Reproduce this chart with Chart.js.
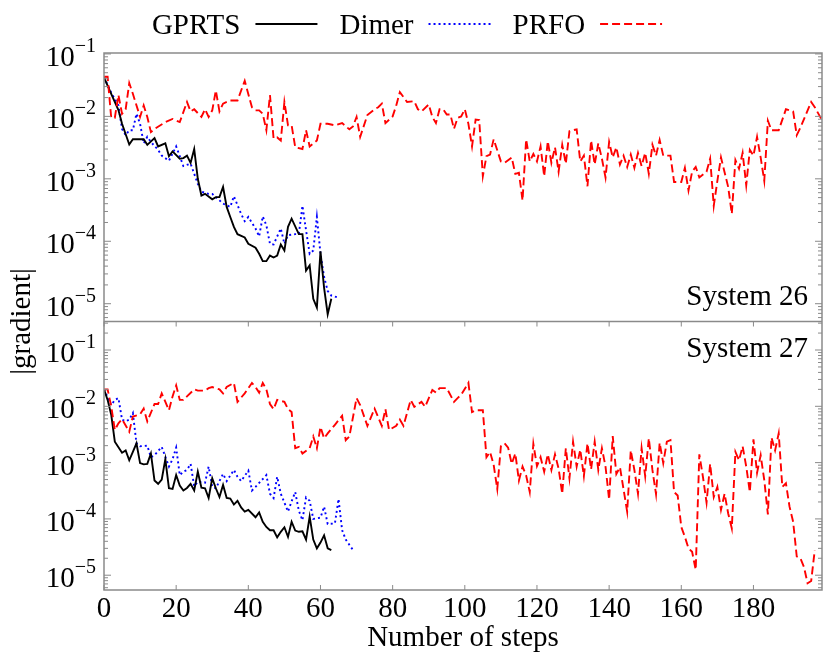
<!DOCTYPE html>
<html>
<head>
<meta charset="utf-8">
<title>Gradient convergence</title>
<script src="https://cdn.jsdelivr.net/npm/chart.js@4.4.0/dist/chart.umd.min.js"></script>
<style>
  html, body { margin: 0; padding: 0; background: #fff; }
  #wrap { width: 830px; height: 664px; }
</style>
</head>
<body>
<div id="wrap"><canvas id="gradChart" width="830" height="664"></canvas></div>
<script>
// [step, |gradient|], System 26 (top panel)
const gprts26 = [[0,4.2e-2],[2,2.3e-2],[4,1.26e-2],[5,7.6e-3],[7,3.55e-3],[8,4.3e-3],[11,4.3e-3],[12,3.5e-3],[14,4.5e-3],[15,3.3e-3],[17,3.7e-3],[18,2.3e-3],[19,2.75e-3],[21,2.1e-3],[22,2.15e-3],[23,2.35e-3],[24,1.8e-3],[25,3.0e-3],[26,1.0e-3],[27,5.4e-4],[28,5.75e-4],[30,4.7e-4],[31,5.1e-4],[32,5.1e-4],[33,7.4e-4],[34,3.55e-4],[35,2.45e-4],[36,1.7e-4],[37,1.3e-4],[39,1.15e-4],[40,9.1e-5],[42,7.9e-5],[43,6.3e-5],[44,4.8e-5],[45,4.8e-5],[46,5.9e-5],[47,5.5e-5],[48,5.9e-5],[49,8.9e-5],[50,7.1e-5],[51,1.7e-4],[52,2.3e-4],[54,1.3e-4],[55,1.3e-4],[56,3.4e-5],[57,4.1e-5],[58,1.2e-5],[59,8.7e-6],[60,6.9e-5],[61,1.8e-5],[62,6.8e-6],[63,1.2e-5]];

const dimer26 = [[0,4.2e-2],[2,2.4e-2],[4,1.5e-2],[5,6.3e-3],[6,5.0e-3],[7,6.0e-3],[8,6.0e-3],[9,1.1e-2],[10,7.6e-3],[11,3.7e-3],[12,4.7e-3],[13,3.9e-3],[15,2.9e-3],[16,2.35e-3],[18,1.95e-3],[20,3.3e-3],[22,1.6e-3],[24,1.75e-3],[26,8.3e-4],[27,6.2e-4],[29,5.75e-4],[30,5.75e-4],[31,5.1e-4],[33,4.0e-4],[35,3.55e-4],[36,5.25e-4],[38,2.75e-4],[39,2.1e-4],[40,2.45e-4],[42,1.6e-4],[43,1.2e-4],[44,2.5e-4],[45,1.8e-4],[46,9.1e-5],[47,8.9e-5],[49,1.6e-4],[50,9.1e-5],[51,1.25e-4],[53,1.3e-4],[54,1.3e-4],[55,3.7e-4],[56,1.5e-4],[57,6.3e-5],[58,7.1e-5],[59,2.45e-4],[60,6.3e-5],[61,2.7e-5],[62,1.6e-5],[63,1.35e-5],[65,1.25e-5]];

const prfo26 = [[0,4.3e-2],[1,4.3e-2],[2,9.5e-3],[3,9.5e-3],[4,2.2e-2],[5,1.1e-2],[6,1.3e-2],[7,3.4e-2],[8,2.3e-2],[10,9.8e-3],[11,1.5e-2],[12,9.8e-3],[13,5.6e-3],[14,6.3e-3],[17,8.1e-3],[19,9.1e-3],[21,8.1e-3],[23,1.7e-2],[24,1.2e-2],[25,1.3e-2],[27,9.8e-3],[28,1.3e-2],[29,9.8e-3],[30,1.25e-2],[31,2.6e-2],[32,1.2e-2],[33,1.6e-2],[35,1.8e-2],[37,1.8e-2],[39,3.7e-2],[41,1.4e-2],[42,1.25e-2],[43,1.25e-2],[44,1.1e-2],[45,6.0e-3],[46,2.2e-2],[47,4.4e-3],[48,4.6e-3],[49,4.1e-3],[50,1.7e-2],[51,7.2e-3],[52,7.2e-3],[53,3.2e-3],[55,3.0e-3],[56,6.0e-3],[57,3.3e-3],[59,4.1e-3],[60,7.6e-3],[62,7.6e-3],[64,7.2e-3],[66,7.8e-3],[68,6.2e-3],[69,6.9e-3],[70,9.8e-3],[71,4.7e-3],[73,1.05e-2],[75,1.3e-2],[76,1.4e-2],[77,1.6e-2],[78,7.8e-3],[80,1.0e-2],[81,1.5e-2],[82,2.45e-2],[84,1.7e-2],[86,1.75e-2],[87,1.3e-2],[88,1.2e-2],[90,1.55e-2],[91,9.8e-3],[92,7.8e-3],[93,1.3e-2],[94,1.3e-2],[95,1.07e-2],[96,1.07e-2],[97,6.3e-3],[98,9.5e-3],[99,1.0e-2],[100,1.3e-2],[101,7.6e-3],[102,3.3e-3],[103,8.9e-3],[104,8.7e-3],[105,1.1e-3],[106,2.3e-3],[107,2.45e-3],[108,4.3e-3],[110,1.9e-3],[111,1.8e-3],[113,2.2e-3],[114,1.2e-3],[115,1.25e-3],[116,4.5e-4],[117,4.3e-3],[118,1.9e-3],[119,2.5e-3],[120,1.9e-3],[121,3.3e-3],[122,1.1e-3],[123,4.0e-3],[124,1.8e-3],[125,3.2e-3],[126,1.3e-3],[127,3.5e-3],[128,1.75e-3],[129,5.8e-3],[131,6.2e-3],[132,1.9e-3],[133,2.35e-3],[134,7.6e-4],[135,4.1e-3],[136,1.7e-3],[137,3.7e-3],[138,2.1e-3],[139,1.05e-3],[140,3.9e-3],[141,2.2e-3],[142,3.2e-3],[143,1.7e-3],[144,2.35e-3],[145,1.55e-3],[146,2.45e-3],[147,1.5e-3],[148,2.6e-3],[149,1.6e-3],[150,2.6e-3],[151,1.2e-3],[152,3.5e-3],[153,2.35e-3],[154,4.2e-3],[155,2.35e-3],[157,2.35e-3],[158,8.9e-4],[160,8.9e-4],[161,1.5e-3],[162,6.5e-4],[163,1.3e-3],[164,1.55e-3],[165,1.05e-3],[167,1.3e-3],[168,2.1e-3],[169,3.7e-4],[170,9.3e-4],[171,2.2e-3],[173,7.4e-4],[174,2.75e-4],[175,2.0e-3],[176,1.45e-3],[177,2.6e-3],[178,7.9e-4],[179,2.9e-3],[180,2.35e-3],[181,4.7e-3],[182,2.2e-3],[183,9.3e-4],[184,8.5e-3],[185,6.0e-3],[187,6.0e-3],[189,1.3e-2],[191,1.2e-2],[192,5.0e-3],[193,6.6e-3],[196,1.7e-2],[197,1.4e-2],[199,8.7e-3]];

// System 27 (bottom panel)
const gprts27 = [[0,2.0e-2],[1,1.3e-2],[2,7.1e-3],[3,2.35e-3],[5,1.5e-3],[6,1.65e-3],[7,1.1e-3],[8,1.55e-3],[9,2.2e-3],[10,9.8e-4],[11,9.3e-4],[12,9.5e-4],[13,1.45e-3],[14,4.8e-4],[15,4.2e-4],[16,5.0e-4],[17,1.15e-3],[18,3.5e-4],[19,3.4e-4],[20,6.0e-4],[21,3.9e-4],[22,3.2e-4],[23,3.55e-4],[24,4.2e-4],[25,3.2e-4],[26,6.9e-4],[27,3.6e-4],[28,3.5e-4],[29,2.35e-4],[30,5.25e-4],[31,3.5e-4],[32,2.45e-4],[33,4.0e-4],[34,2.35e-4],[35,2.3e-4],[36,1.8e-4],[37,2.1e-4],[38,1.6e-4],[39,1.35e-4],[40,1.45e-4],[42,1.07e-4],[43,1.3e-4],[44,8.9e-5],[45,7.2e-5],[46,6.3e-5],[47,6.3e-5],[48,4.7e-5],[49,5.9e-5],[50,7.1e-5],[51,4.8e-5],[52,8.9e-5],[53,6.2e-5],[54,5.9e-5],[55,6.0e-5],[56,4.3e-5],[57,1.1e-4],[58,4.3e-5],[59,3.0e-5],[60,3.8e-5],[61,5.1e-5],[62,3.0e-5],[63,2.8e-5]];

const dimer27 = [[0,2.0e-2],[2,1.05e-2],[3,1.3e-2],[4,1.4e-2],[5,5.8e-3],[6,5.4e-3],[7,5.8e-3],[8,7.6e-3],[9,2.2e-3],[10,1.95e-3],[12,2.0e-3],[13,1.25e-3],[14,1.35e-3],[16,1.9e-3],[18,8.5e-4],[19,1.15e-3],[20,1.85e-3],[21,6.0e-4],[22,6.9e-4],[23,7.4e-4],[24,9.5e-4],[25,3.8e-4],[26,4.6e-4],[28,4.4e-4],[29,8.5e-4],[30,3.7e-4],[31,3.5e-4],[33,6.3e-4],[34,4.7e-4],[36,7.4e-4],[37,5.6e-4],[38,4.7e-4],[40,7.2e-4],[41,3.2e-4],[42,3.7e-4],[45,6.0e-4],[46,2.8e-4],[47,2.35e-4],[48,5.6e-4],[49,2.8e-4],[51,1.35e-4],[52,2.05e-4],[53,3.0e-4],[54,1.4e-4],[55,9.5e-5],[56,2.4e-4],[57,2.1e-4],[58,1.0e-4],[60,1.05e-4],[61,1.65e-4],[62,8.1e-5],[64,8.3e-5],[65,2.25e-4],[66,6.3e-5],[67,4.3e-5],[69,2.8e-5]];

const prfo27 = [[0,2.0e-2],[1,2.0e-2],[2,1.0e-2],[3,3.8e-3],[4,5.0e-3],[5,5.9e-3],[7,3.55e-3],[8,6.6e-3],[10,7.2e-3],[11,9.1e-3],[12,5.4e-3],[14,1.1e-2],[15,1.1e-2],[16,1.7e-2],[18,8.5e-3],[19,1.5e-2],[20,2.35e-2],[21,1.3e-2],[22,1.3e-2],[23,1.5e-2],[25,2.0e-2],[26,1.9e-2],[28,1.9e-2],[29,2.1e-2],[30,2.2e-2],[32,2.0e-2],[33,1.7e-2],[34,2.2e-2],[36,2.6e-2],[37,1.2e-2],[39,1.7e-2],[41,2.6e-2],[42,2.2e-2],[43,1.75e-2],[44,2.6e-2],[45,2.0e-2],[46,1.1e-2],[47,8.9e-3],[48,1.3e-2],[50,1.2e-2],[51,8.9e-3],[52,7.9e-3],[53,1.8e-3],[54,1.9e-3],[55,1.45e-3],[57,1.8e-3],[58,2.9e-3],[59,1.8e-3],[60,4.3e-3],[61,2.7e-3],[62,3.3e-3],[64,4.7e-3],[66,6.8e-3],[67,2.5e-3],[68,2.9e-3],[70,1.4e-2],[71,1.05e-2],[73,4.5e-3],[75,9.1e-3],[77,4.5e-3],[78,8.9e-3],[79,3.8e-3],[81,4.5e-3],[82,5.8e-3],[83,4.5e-3],[85,1.3e-2],[86,9.8e-3],[88,1.2e-2],[89,9.8e-3],[91,1.95e-2],[92,1.75e-2],[93,2.1e-2],[95,2.1e-2],[97,1.2e-2],[98,1.4e-2],[99,1.6e-2],[101,2.6e-2],[102,7.9e-3],[103,8.5e-3],[105,8.5e-3],[106,1.25e-3],[107,1.55e-3],[108,9.1e-4],[109,3.4e-4],[110,1.95e-3],[111,2.2e-3],[112,1.85e-3],[113,9.5e-4],[114,1.45e-3],[115,4.8e-4],[116,8.5e-4],[117,5.9e-4],[118,3.0e-4],[119,2.15e-3],[120,8.7e-4],[121,1.25e-3],[122,6.9e-4],[123,1.4e-3],[124,7.4e-4],[125,1.4e-3],[126,7.8e-4],[127,2.8e-4],[128,1.8e-3],[129,5.25e-4],[130,2.35e-3],[131,8.5e-4],[132,1.7e-3],[133,5.75e-4],[134,2.2e-3],[135,7.6e-4],[136,2.35e-3],[137,7.4e-4],[138,1.8e-3],[139,8.5e-4],[140,2.2e-4],[141,2.95e-3],[142,6.3e-4],[143,8.3e-4],[145,1.35e-4],[146,1.65e-3],[147,7.4e-4],[148,2.8e-4],[149,1.8e-3],[150,5.75e-4],[151,2.7e-3],[152,7.4e-4],[153,2.75e-4],[154,2.25e-3],[155,9.8e-4],[156,2.35e-3],[157,2.5e-3],[158,3.0e-4],[159,2.6e-4],[160,7.2e-5],[161,4.8e-5],[162,3.0e-5],[163,2.6e-5],[164,1.25e-5],[165,1.4e-3],[166,5.6e-4],[167,1.95e-4],[168,9.5e-4],[169,2.45e-4],[170,3.7e-4],[171,1.45e-4],[172,2.8e-4],[173,1.25e-4],[174,6.8e-5],[175,1.55e-3],[176,1.1e-3],[177,1.95e-3],[178,8.5e-4],[179,3.0e-4],[180,2.6e-3],[181,6.6e-4],[182,1.35e-3],[183,4.9e-4],[184,1.2e-4],[185,2.8e-3],[186,1.65e-3],[187,3.3e-3],[188,3.7e-4],[189,4.3e-4],[190,1.65e-4],[191,8.9e-5],[192,2.15e-5],[193,2.0e-5],[194,1.4e-5],[195,7.2e-6],[196,7.9e-6],[197,2.8e-5]];

// axis ticks and labels
const xTickValues = [0, 20, 40, 60, 80, 100, 120, 140, 160, 180];
const yTickExponents = [-1, -2, -3, -4, -5];
const panelNames = ['System 26', 'System 27'];
const legendOrder = ['GPRTS', 'Dimer', 'PRFO'];

const SERIF = "'Liberation Serif', 'DejaVu Serif', serif";
const FRAME_COLOR = '#8a8a8a';

function toPoints(pairs) {
    return pairs.map(p => ({ x: p[0], y: p[1] }));
}

function seg(ctx, x1, y1, x2, y2) {
    ctx.beginPath();
    ctx.moveTo(x1, y1);
    ctx.lineTo(x2, y2);
    ctx.stroke();
}

// Frame, inward ticks, labels and legend (matplotlib-like look)
const panelDecor = {
    id: 'panelDecor',
    afterDraw(chart) {
        const ctx = chart.ctx;
        const a = chart.chartArea;
        const xs = chart.scales.x;
        const yTop = chart.scales.yTop;
        const yBot = chart.scales.yBot;
        const mid = yTop.bottom;

        ctx.save();
        ctx.strokeStyle = FRAME_COLOR;
        ctx.lineWidth = 1.5;
        ctx.strokeRect(a.left, a.top, a.right - a.left, a.bottom - a.top);
        seg(ctx, a.left, mid, a.right, mid);

        // y ticks (log) on both sides
        ctx.lineWidth = 1;
        [yTop, yBot].forEach(s => {
            for (let e = -6; e <= 0; e++) {
                for (let m = 1; m <= 9; m++) {
                    const v = m * Math.pow(10, e);
                    if (v < s.min || v > s.max) continue;
                    const py = s.getPixelForValue(v);
                    const len = m === 1 ? 7 : 4;
                    seg(ctx, a.left, py, a.left + len, py);
                    seg(ctx, a.right, py, a.right - len, py);
                }
            }
        });

        // x ticks
        xTickValues.forEach(v => {
            const px = xs.getPixelForValue(v);
            seg(ctx, px, a.bottom, px, a.bottom - 5);
            seg(ctx, px, mid, px, mid + 5);
        });

        ctx.fillStyle = '#000';
        ctx.textBaseline = 'alphabetic';

        // y tick labels 10^n
        const big = '29px ' + SERIF;
        const small = '20px ' + SERIF;
        [yTop, yBot].forEach(s => {
            yTickExponents.forEach(e => {
                const v = Math.pow(10, e);
                if (v < s.min * 0.999 || v > s.max * 1.001) return;
                const py = s.getPixelForValue(v);
                const sup = '\u2212' + (-e);
                ctx.font = big;
                const w10 = ctx.measureText('10').width;
                ctx.font = small;
                const ws = ctx.measureText(sup).width;
                const x0 = 96 - ws - w10;
                ctx.textAlign = 'left';
                ctx.font = big;
                ctx.fillText('10', x0, py + 12);
                ctx.font = small;
                ctx.fillText(sup, x0 + w10, py - 2);
            });
        });

        // x tick labels
        ctx.font = big;
        ctx.textAlign = 'center';
        xTickValues.forEach(v => {
            ctx.fillText(String(v), xs.getPixelForValue(v), 617);
        });
        ctx.fillText('Number of steps', (a.left + a.right) / 2, 646);

        // y title
        ctx.save();
        ctx.translate(30, mid);
        ctx.rotate(-Math.PI / 2);
        ctx.textAlign = 'center';
        ctx.fillText('|gradient|', 0, 0);
        ctx.restore();

        // panel names
        ctx.textAlign = 'right';
        ctx.fillText(panelNames[0], 808, mid - 17);
        ctx.fillText(panelNames[1], 808, mid + 35);

        // legend: label then line sample
        const items = legendOrder.map(name => chart.data.datasets.find(d => d.label === name));
        const lineLen = 62, gapText = 15, gapItem = 22;
        ctx.font = big;
        let total = 0;
        items.forEach((d, i) => {
            total += ctx.measureText(d.label).width + gapText + lineLen;
            if (i < items.length - 1) total += gapItem;
        });
        let lx = 407 - total / 2;
        ctx.textAlign = 'left';
        items.forEach(d => {
            ctx.fillStyle = '#000';
            ctx.fillText(d.label, lx, 34);
            lx += ctx.measureText(d.label).width + gapText;
            ctx.strokeStyle = d.borderColor;
            ctx.lineWidth = d.borderWidth;
            ctx.setLineDash(d.borderDash || []);
            seg(ctx, lx, 24, lx + lineLen, 24);
            ctx.setLineDash([]);
            lx += lineLen + gapItem;
        });
        ctx.restore();
    }
};

function lineSet(label, pairs, axis, color, dash) {
    return {
        label: label,
        data: toPoints(pairs),
        xAxisID: 'x',
        yAxisID: axis,
        borderColor: color,
        borderWidth: 1.9,
        borderDash: dash,
        pointRadius: 0,
        fill: false,
        tension: 0
    };
}

const logAxis = (min, max) => ({
    type: 'logarithmic',
    position: 'left',
    stack: 'panels',
    stackWeight: 1,
    min: min,
    max: max,
    ticks: { display: false },
    grid: { display: false },
    border: { display: false },
    afterFit: s => { s.width = 104; }
});

new Chart(document.getElementById('gradChart'), {
    type: 'line',
    data: {
        datasets: [
            lineSet('PRFO', prfo26, 'yTop', '#ff0000', [8, 4]),
            lineSet('GPRTS', gprts26, 'yTop', '#000000', []),
            lineSet('Dimer', dimer26, 'yTop', '#0000ff', [2, 3]),
            lineSet('PRFO 27', prfo27, 'yBot', '#ff0000', [8, 4]),
            lineSet('GPRTS 27', gprts27, 'yBot', '#000000', []),
            lineSet('Dimer 27', dimer27, 'yBot', '#0000ff', [2, 3])
        ]
    },
    options: {
        responsive: false,
        animation: false,
        layout: { padding: { top: 53, right: 8, left: 0, bottom: 0 } },
        plugins: {
            legend: { display: false },
            tooltip: { enabled: false }
        },
        scales: {
            x: {
                type: 'linear',
                min: 0,
                max: 199,
                ticks: { display: false },
                grid: { display: false },
                border: { display: false },
                afterFit: s => { s.height = 74; }
            },
            // bottom panel first: later stacked axis is placed on top
            yBot: logAxis(5.46e-6, 0.321),
            yTop: logAxis(5.19e-6, 0.1035)
        }
    },
    plugins: [panelDecor]
});
</script>
</body>
</html>
